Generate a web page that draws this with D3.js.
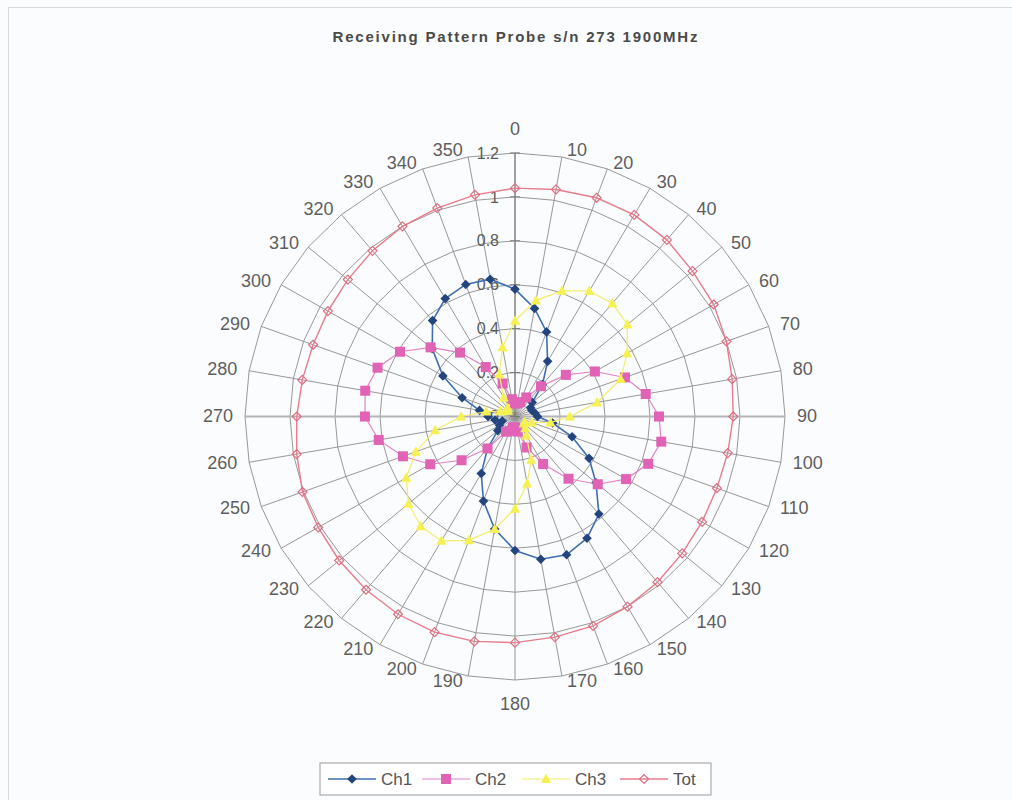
<!DOCTYPE html>
<html>
<head>
<meta charset="utf-8">
<script src="https://cdn.jsdelivr.net/npm/d3@7"></script>
<style>
  body { margin: 0; background: #ffffff; }
  svg { display: block; }
  text { font-family: "Liberation Sans", Arial, sans-serif; }
</style>
</head>
<body>
<div id="chart"></div>
<script>
// category axis (degrees) and value axis ticks
const angles = [0, 10, 20, 30, 40, 50, 60, 70, 80, 90, 100, 110, 120, 130, 140, 150, 160, 170,
                180, 190, 200, 210, 220, 230, 240, 250, 260, 270, 280, 290, 300, 310, 320, 330, 340, 350];
const radialTicks = [0, 0.2, 0.4, 0.6, 0.8, 1, 1.2];
const radialTickLabels = ['0', '0.2', '0.4', '0.6', '0.8', '1', '1.2'];

// series values, one per angle
const ch1 = [0.58, 0.50, 0.41, 0.29, 0.19, 0.10, 0.08, 0.08, 0.09, 0.10, 0.17, 0.27,
             0.38, 0.47, 0.58, 0.64, 0.67, 0.66, 0.61, 0.52, 0.41, 0.30, 0.19, 0.10,
             0.08, 0.06, 0.09, 0.12, 0.16, 0.25, 0.37, 0.48, 0.57, 0.62, 0.64, 0.635];
const ch2 = [0.06, 0.06, 0.07, 0.10, 0.18, 0.295, 0.41, 0.52, 0.59, 0.64, 0.66, 0.63,
             0.57, 0.48, 0.37, 0.25, 0.15, 0.07, 0.05, 0.05, 0.07, 0.08, 0.19, 0.31,
             0.435, 0.53, 0.615, 0.667, 0.676, 0.65, 0.59, 0.49, 0.38, 0.26, 0.16, 0.08];
const ch3 = [0.436, 0.536, 0.61, 0.66, 0.673, 0.652, 0.575, 0.50, 0.37, 0.244, 0.16, 0.08,
             0.05, 0.05, 0.07, 0.10, 0.21, 0.31, 0.42, 0.52, 0.60, 0.654, 0.652, 0.618,
             0.558, 0.469, 0.36, 0.24, 0.13, 0.07, 0.05, 0.04, 0.05, 0.10, 0.205, 0.32];
const tot = [1.04, 1.05, 1.06, 1.06, 1.05, 1.03, 1.02, 1.00, 0.98, 0.97, 0.96, 0.955,
             0.96, 0.97, 0.985, 1.00, 1.015, 1.02, 1.03, 1.04, 1.045, 1.04, 1.03, 1.02,
             1.01, 1.005, 0.985, 0.97, 0.96, 0.955, 0.96, 0.97, 0.985, 1.00, 1.01, 1.025];

const seriesNames = ['Ch1', 'Ch2', 'Ch3', 'Tot'];
const chartTitle = 'Receiving Pattern Probe s/n 273 1900MHz';

window.addEventListener('load', function() {
    if (typeof d3 === 'undefined') {
        console.error('D3 not loaded');
        return;
    }
    drawChart();
});

function drawChart() {
    const width = 1012, height = 800;
    const cx = 515, cy = 416.5;
    const R = 263.5;          // vertical radius of the 1.2 ring
    const kx = 270 / 263.5;   // the scan is a touch wider than tall

    const svg = d3.select('#chart').append('svg')
        .attr('width', width)
        .attr('height', height);

    svg.append('rect')
        .attr('width', width).attr('height', height)
        .attr('fill', '#fbfcfe');

    // faint chart frame from the scan
    svg.append('rect')
        .attr('x', 8.5).attr('y', 7.5)
        .attr('width', width).attr('height', height)
        .attr('fill', 'none')
        .attr('stroke', '#d4d9de')
        .attr('stroke-width', 1);

    const r = d3.scaleLinear().domain([0, 1.2]).range([0, R]);
    const a = d3.scaleLinear().domain([0, 360]).range([0, 2 * Math.PI]);

    function pt(deg, v) {
        const t = a(deg);
        return [cx + r(v) * kx * Math.sin(t), cy - r(v) * Math.cos(t)];
    }

    const gridColor = '#8c8c8c';
    const grid = svg.append('g');

    // rings (polygons like excel radar gridlines)
    radialTicks.filter(v => v > 0).forEach(v => {
        grid.append('path')
            .attr('d', d3.line()(angles.map(d => pt(d, v))) + 'Z')
            .attr('fill', 'none')
            .attr('stroke', gridColor)
            .attr('stroke-width', 0.9);
    });

    // spokes
    angles.forEach(d => {
        const p = pt(d, 1.2);
        const isHoriz = (d === 90 || d === 270);
        grid.append('line')
            .attr('x1', cx).attr('y1', cy)
            .attr('x2', p[0]).attr('y2', p[1])
            .attr('stroke', isHoriz ? '#b4b4b4' : gridColor)
            .attr('stroke-width', isHoriz ? 2.2 : 0.9);
    });

    // value axis line + ticks
    grid.append('line')
        .attr('x1', cx).attr('y1', cy)
        .attr('x2', cx).attr('y2', cy - R)
        .attr('stroke', '#777')
        .attr('stroke-width', 1);
    radialTicks.forEach(v => {
        grid.append('line')
            .attr('x1', cx - 5).attr('x2', cx + 5)
            .attr('y1', cy - r(v)).attr('y2', cy - r(v))
            .attr('stroke', '#777')
            .attr('stroke-width', 1);
    });

    // value labels
    svg.append('g').selectAll('text')
        .data(radialTicks)
        .enter().append('text')
        .attr('x', cx - 16)
        .attr('y', d => cy - r(d))
        .attr('dy', '0.35em')
        .attr('text-anchor', 'end')
        .style('font-size', '16px')
        .style('fill', '#5a5a5a')
        .text((d, i) => radialTickLabels[i]);

    // angle labels
    svg.append('g').selectAll('text')
        .data(angles)
        .enter().append('text')
        .each(function(d) {
            const t = a(d);
            const s = Math.sin(t), c = Math.cos(t);
            const p = pt(d, 1.2);
            let x = p[0], y = p[1], anchor = 'middle';
            if (Math.abs(s) < 0.01) {
                y = p[1] - c * 24;
            } else {
                anchor = s > 0 ? 'start' : 'end';
                x = p[0] + (s > 0 ? 1 : -1) * (5 + 7 * s * s);
                y = p[1] - 1 - 6 * c;
            }
            d3.select(this)
                .attr('x', x).attr('y', y)
                .attr('dy', '0.35em')
                .attr('text-anchor', anchor);
        })
        .style('font-size', '18px')
        .style('fill', '#5e5e5e')
        .text(d => d);

    // series
    const diamond = 'M0,-4.8L4.8,0L0,4.8L-4.8,0Z';
    const series = [
        { name: seriesNames[0], values: ch1, line: '#3f6fb0', lw: 1.6, marker: diamond, fill: '#24447e', stroke: 'none' },
        { name: seriesNames[1], values: ch2, line: '#e283c6', lw: 1.2, marker: 'M-5,-5H5V5H-5Z', fill: '#e063b6', stroke: 'none' },
        { name: seriesNames[2], values: ch3, line: '#f3ee6a', lw: 1.2, marker: 'M0,-5.5L5,4L-5,4Z', fill: '#f6f152', stroke: 'none' },
        { name: seriesNames[3], values: tot, line: '#e77c8c', lw: 1.4, marker: 'M0,-4.5L4.5,0L0,4.5L-4.5,0Z', fill: 'none', stroke: '#db6f80' }
    ];

    const plot = svg.append('g');
    series.forEach(s => {
        const pts = angles.map((d, i) => pt(d, s.values[i]));
        plot.append('path')
            .attr('d', d3.line()(pts) + 'Z')
            .attr('fill', 'none')
            .attr('stroke', s.line)
            .attr('stroke-width', s.lw);
        plot.append('g').selectAll('path')
            .data(pts)
            .enter().append('path')
            .attr('transform', p => `translate(${p[0]},${p[1]})`)
            .attr('d', s.marker)
            .attr('fill', s.fill)
            .attr('stroke', s.stroke)
            .attr('stroke-width', 1.2);
    });

    // title
    svg.append('text')
        .attr('x', cx)
        .attr('y', 37)
        .attr('dy', '0.35em')
        .attr('text-anchor', 'middle')
        .attr('textLength', 365)
        .attr('lengthAdjust', 'spacing')
        .style('font-size', '15px')
        .style('font-weight', 'bold')
        .style('fill', '#4a4a4a')
        .text(chartTitle);

    // legend
    const legend = svg.append('g');
    legend.append('rect')
        .attr('x', 320).attr('y', 763)
        .attr('width', 391).attr('height', 32)
        .attr('fill', '#ffffff')
        .attr('stroke', '#9a9a9a')
        .attr('stroke-width', 1);
    const legendX = [328, 422, 522, 620];
    series.forEach((s, i) => {
        const g = legend.append('g').attr('transform', `translate(${legendX[i]},779)`);
        g.append('line')
            .attr('x1', 0).attr('x2', 48)
            .attr('stroke', s.line)
            .attr('stroke-width', s.lw);
        g.append('path')
            .attr('transform', 'translate(24,0)')
            .attr('d', s.marker)
            .attr('fill', s.fill)
            .attr('stroke', s.stroke)
            .attr('stroke-width', 1.2);
        g.append('text')
            .attr('x', 53).attr('y', 0)
            .attr('dy', '0.35em')
            .style('font-size', '17px')
            .style('fill', '#555')
            .text(s.name);
    });
}
</script>
</body>
</html>
